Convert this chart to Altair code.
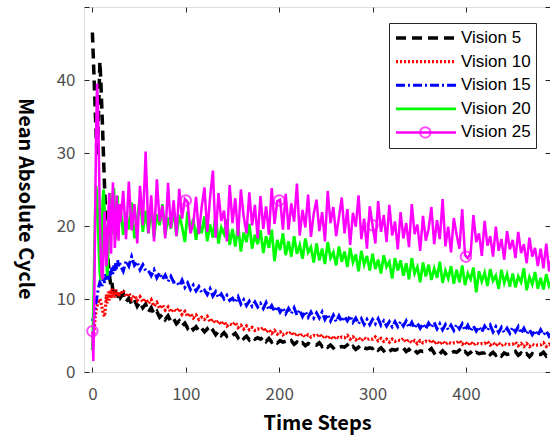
import altair as alt
import pandas as pd

SERIES = ["Vision 5", "Vision 10", "Vision 15", "Vision 20", "Vision 25"]
COLORS = ["#000000", "#ff0000", "#0000ff", "#00ff00", "#ff00ff"]
DASHES = [[10, 6], [2, 2], [9, 3, 2, 3], [1, 0], [1, 0]]
WIDTHS = [3.5, 2.5, 2.5, 3.0, 3.0]

X_TICKS = [0, 100, 200, 300, 400]
Y_TICKS = [0, 10, 20, 30, 40]
Y_TICKS_ALL = [0, 10, 20, 30, 40, 50]

# time steps: every step for the first 30, then every 3rd step
T = list(range(0, 30)) + list(range(30, 493, 3))

V5 = [46.5, 43.0, 39.5, 36.0, 32.5, 29.5, 33.0, 37.5, 42.5, 40.0,
      36.5, 33.0, 29.0, 25.5, 22.5, 19.5, 17.0, 15.0, 13.5, 12.5,
      11.6, 12.2, 11.0, 11.5, 10.6, 11.2, 10.3, 10.9, 10.1, 10.6,
      10.2, 10.8, 9.6, 10.1, 9.3, 9.9, 9.0, 9.6, 8.8, 9.3,
      8.2, 8.8, 7.9, 8.3, 7.5, 7.9, 7.2, 7.7, 6.9, 7.3,
      6.6, 7.0, 6.3, 6.7, 6.0, 6.4, 5.8, 6.2, 5.6, 6.0,
      5.5, 5.9, 5.3, 5.7, 5.1, 5.6, 5.0, 5.4, 4.9, 5.2,
      5.0, 5.3, 4.7, 5.1, 4.6, 4.9, 4.4, 4.8, 4.5, 4.7,
      4.5, 4.8, 4.2, 4.6, 4.1, 4.4, 4.0, 4.3, 4.1, 4.2,
      4.0, 4.3, 3.8, 4.1, 3.7, 4.0, 3.6, 3.9, 3.7, 3.8,
      3.7, 4.0, 3.5, 3.8, 3.4, 3.7, 3.3, 3.6, 3.4, 3.5,
      3.4, 3.7, 3.2, 3.5, 3.1, 3.4, 3.0, 3.3, 3.2, 3.3,
      3.2, 3.5, 3.0, 3.3, 2.9, 3.2, 2.8, 3.1, 3.0, 3.1,
      3.0, 3.3, 2.8, 3.1, 2.7, 3.0, 2.6, 2.9, 2.8, 2.9,
      2.9, 3.2, 2.6, 2.9, 2.5, 2.9, 2.5, 2.8, 2.6, 2.8,
      2.7, 3.0, 2.5, 2.8, 2.4, 2.7, 2.3, 2.7, 2.5, 2.6,
      2.6, 2.9, 2.4, 2.7, 2.3, 2.6, 2.2, 2.6, 2.4, 2.5,
      2.5, 2.8, 2.3, 2.6, 2.2, 2.5, 2.1, 2.5, 2.3, 2.4,
      2.4, 2.7, 2.2, 2.5, 2.3]

V10 = [3.0, 4.5, 6.0, 7.5, 8.5, 9.0, 9.5, 9.8, 10.0, 9.6,
       9.0, 8.4, 7.9, 7.6, 8.8, 10.6, 9.4, 11.0, 9.8, 11.2,
       10.1, 11.4, 10.4, 11.1, 10.2, 11.3, 10.5, 11.0, 10.3, 10.9,
       10.6, 11.2, 10.3, 10.8, 10.0, 10.5, 9.8, 10.3, 9.6, 10.0,
       9.4, 9.9, 9.0, 9.5, 8.7, 9.2, 8.5, 8.9, 8.2, 8.6,
       8.3, 8.7, 7.9, 8.3, 7.6, 8.0, 7.4, 7.8, 7.2, 7.5,
       7.2, 7.6, 6.9, 7.2, 6.7, 7.0, 6.5, 6.9, 6.3, 6.6,
       6.4, 6.8, 6.1, 6.4, 5.9, 6.3, 5.8, 6.1, 5.7, 5.9,
       5.8, 6.1, 5.5, 5.8, 5.3, 5.7, 5.2, 5.5, 5.1, 5.4,
       5.2, 5.5, 5.0, 5.3, 4.9, 5.2, 4.8, 5.1, 4.8, 5.0,
       4.9, 5.2, 4.7, 5.0, 4.6, 4.9, 4.5, 4.9, 4.6, 4.8,
       4.7, 5.0, 4.5, 4.8, 4.4, 4.7, 4.3, 4.7, 4.4, 4.6,
       4.5, 4.8, 4.3, 4.6, 4.2, 4.5, 4.1, 4.5, 4.2, 4.4,
       4.3, 4.6, 4.1, 4.4, 4.0, 4.3, 3.9, 4.3, 4.0, 4.2,
       4.1, 4.4, 3.9, 4.2, 3.8, 4.2, 3.8, 4.1, 3.9, 4.0,
       4.0, 4.3, 3.8, 4.1, 3.7, 4.1, 3.7, 4.0, 3.8, 3.9,
       3.9, 4.2, 3.7, 4.0, 3.6, 4.0, 3.6, 3.9, 3.7, 3.8,
       3.8, 4.1, 3.6, 3.9, 3.5, 3.9, 3.5, 3.8, 3.6, 3.7,
       3.7, 4.0, 3.5, 3.8, 3.6]

V15 = [7.0, 7.4, 8.0, 8.8, 9.6, 10.4, 11.2, 11.8, 12.3, 12.0,
       11.6, 12.4, 12.9, 12.2, 13.4, 12.7, 13.3, 12.5, 13.8, 13.0,
       13.6, 14.3, 13.4, 14.6, 13.8, 14.9, 14.1, 15.3, 14.5, 15.1,
       14.6, 13.8, 15.2, 14.5, 15.8, 14.6, 15.1, 14.0, 14.7, 13.9,
       13.9, 13.2, 14.0, 12.9, 13.6, 12.7, 13.3, 12.4, 13.1, 12.3,
       12.4, 11.8, 12.6, 11.6, 12.2, 11.3, 11.9, 11.1, 11.7, 10.9,
       11.2, 10.6, 11.4, 10.4, 11.0, 10.2, 10.7, 10.0, 10.5, 9.8,
       10.1, 9.5, 10.3, 9.3, 9.9, 9.1, 9.7, 9.0, 9.6, 8.9,
       9.4, 8.7, 9.5, 8.5, 9.1, 8.3, 9.0, 8.2, 8.8, 8.0,
       8.7, 8.0, 8.8, 7.8, 8.5, 7.6, 8.3, 7.5, 8.2, 7.4,
       8.1, 7.4, 8.2, 7.2, 7.9, 7.0, 7.8, 6.9, 7.7, 6.9,
       7.6, 7.0, 7.7, 6.8, 7.4, 6.6, 7.3, 6.5, 7.2, 6.5,
       7.2, 6.6, 7.3, 6.4, 7.0, 6.3, 6.9, 6.2, 6.9, 6.2,
       6.9, 6.3, 7.0, 6.1, 6.8, 6.0, 6.7, 6.0, 6.6, 5.9,
       6.7, 6.1, 6.8, 5.9, 6.6, 5.8, 6.5, 5.8, 6.4, 5.7,
       6.5, 5.9, 6.6, 5.7, 6.4, 5.6, 6.3, 5.6, 6.2, 5.5,
       6.3, 5.7, 6.4, 5.5, 6.2, 5.4, 6.1, 5.4, 6.0, 5.3,
       6.1, 5.5, 6.2, 5.3, 6.0, 5.2, 5.8, 5.1, 5.7, 5.0,
       5.8, 5.1, 5.6, 4.9, 5.4]

V20 = [3.0, 8.0, 15.0, 22.0, 25.5, 24.0, 20.5, 16.5, 13.5, 12.6,
       17.5, 23.5, 25.0, 22.0, 18.5, 15.0, 13.2, 17.0, 21.5, 24.5,
       22.0, 18.8, 23.2, 25.2, 21.0, 18.2, 22.4, 24.1, 19.6, 22.0,
       22.5, 18.8, 21.9, 19.5, 23.2, 18.3, 21.0, 24.0, 19.2, 22.1,
       19.0, 22.4, 18.4, 21.6, 20.1, 23.0, 18.7, 21.2, 19.6, 22.3,
       18.6, 21.5, 19.9, 17.8, 22.0, 19.2, 21.0, 18.1, 20.6, 19.0,
       21.3, 17.9, 20.2, 18.4, 21.5, 17.6, 19.8, 18.9, 20.9, 17.4,
       19.6, 17.2, 20.0, 16.5, 19.1, 17.8, 20.3, 16.9, 18.8, 17.5,
       19.4, 16.3, 18.6, 17.0, 19.5, 15.2, 18.1, 16.7, 19.0, 16.0,
       17.9, 15.8, 18.6, 16.2, 17.4, 15.5, 18.3, 16.4, 17.1, 15.0,
       17.6, 15.3, 16.9, 14.8, 17.8, 15.6, 16.4, 14.6, 17.2, 15.1,
       16.5, 14.4, 17.0, 15.0, 16.1, 13.8, 16.6, 14.7, 15.9, 13.9,
       16.2, 14.1, 15.4, 13.5, 16.0, 14.4, 15.1, 12.8, 15.6, 13.9,
       15.3, 13.2, 14.9, 12.7, 15.6, 13.5, 14.4, 12.3, 15.0, 13.1,
       14.7, 12.6, 14.2, 12.9, 15.1, 12.2, 13.9, 12.8, 14.5, 12.1,
       14.0, 12.3, 14.6, 11.9, 13.5, 12.7, 14.3, 10.9, 13.8, 12.4,
       13.6, 11.8, 14.1, 12.5, 13.2, 11.4, 14.0, 12.2, 13.4, 11.7,
       13.5, 11.6, 13.1, 12.3, 14.2, 11.2, 13.0, 12.0, 13.7, 11.4,
       12.9, 11.3, 13.4, 11.8, 12.5]

V25 = [5.6, 1.5, 10.0, 22.0, 33.0, 39.5, 36.5, 29.0, 21.0, 15.5,
       13.0, 12.7, 16.5, 22.0, 19.0, 14.5, 16.8, 21.5, 24.5, 20.0,
       16.2, 22.3, 26.0, 21.0, 17.0, 19.4, 24.2, 20.1, 18.0, 23.0,
       20.5, 24.8, 18.2, 26.1, 19.4, 23.0, 17.6, 25.5, 20.1, 30.2,
       19.0, 24.2, 17.9, 26.4, 20.6, 22.8, 18.3, 25.9, 19.7, 23.5,
       18.6, 25.1, 21.0, 23.7, 23.3, 19.0, 20.3, 24.0, 18.9, 22.6,
       25.3, 19.2, 23.9, 27.6, 18.4, 24.5, 20.7, 22.1, 17.9, 25.6,
       20.4, 23.8, 18.6, 25.0, 21.3, 19.0, 24.6, 20.1, 22.9, 18.3,
       24.1, 19.6, 22.7, 18.8, 25.2, 20.3, 23.4, 23.6, 19.5, 24.4,
       19.5, 23.1, 20.6, 25.8, 18.7, 22.2, 19.8, 24.3, 18.5, 21.7,
       23.6, 19.3, 21.9, 17.9, 24.8, 20.4, 22.6, 18.6, 21.2, 23.9,
       19.0, 22.3, 17.4, 21.8, 19.9, 24.2, 18.2, 21.0, 16.9, 22.7,
       20.1, 17.6, 23.4, 19.2, 21.5, 17.8, 22.9, 18.7, 20.6, 16.8,
       21.9, 18.3, 20.4, 17.1, 23.0, 18.9, 20.2, 16.6, 21.4, 18.0,
       19.6, 22.6, 17.5, 20.8, 18.2, 23.7, 17.2, 19.9, 16.4, 21.1,
       18.8, 16.9, 22.3, 16.0, 15.6, 16.2, 21.5, 17.8, 19.0, 15.9,
       20.7, 17.3, 18.6, 15.8, 19.9, 16.6, 18.2, 15.4, 19.3, 16.8,
       18.1, 15.6, 19.2, 16.3, 17.5, 14.9, 18.4, 15.8, 17.0, 14.5,
       16.9, 14.2, 17.6, 13.8, 15.9]

# circle markers on the Vision 25 curve
T_MARK = [0, 100, 200, 300, 400]
V_MARK = [5.6, 23.5, 23.5, 20.1, 15.8]

ALL = [V5, V10, V15, V20, V25]
for s, arr in zip(SERIES, ALL):
    if len(arr) != len(T):
        raise ValueError(f"{s}: {len(arr)} values for {len(T)} steps")

rows = []
for s, arr in zip(SERIES, ALL):
    for t, v in zip(T, arr):
        rows.append({"t": t, "value": v, "series": s})
df = pd.DataFrame(rows)
mk = pd.DataFrame({"t": T_MARK, "value": V_MARK, "mk": ["Vision 25"] * len(T_MARK)})

W, H = 466, 365
LABEL_FONT = "Noto Sans CJK KR"
TICK_COLOR = "#262626"

X_SCALE = alt.Scale(domain=[-9, 490], nice=False, zero=False)
Y_SCALE = alt.Scale(domain=[0, 50], nice=False, zero=False)

LEGEND = alt.Legend(title=None, orient="none", legendX=305, legendY=16,
                    symbolType="stroke", symbolSize=3600,
                    labelFont="Liberation Sans", labelFontSize=17, labelColor="#000000",
                    labelOffset=3, clipHeight=20, rowPadding=3.6, padding=5,
                    strokeColor="#262626", fillColor="#ffffff")

# one-entry legend that lays the circle marker over the "Vision 25" legend line
MARK_LEGEND = alt.Legend(title=None, orient="none", legendX=334.8, legendY=115.4,
                         padding=0, clipHeight=20, symbolSize=110, symbolStrokeWidth=2,
                         symbolStrokeColor="#ff00ff", symbolFillColor="transparent",
                         labelExpr="''", labelFontSize=1, zindex=2)

main_x = alt.Axis(orient="bottom", values=X_TICKS, ticks=False, domain=False, grid=False,
                  labelFont=LABEL_FONT, labelFontSize=17, labelColor="#505050",
                  labelPadding=14, title="Time Steps", titleFont=LABEL_FONT,
                  titleFontSize=20, titleFontWeight="bold", titleColor="#000000",
                  titleX=W / 2, titleY=57, titleAlign="center", titleBaseline="alphabetic")
main_y = alt.Axis(orient="left", values=Y_TICKS, ticks=False, domain=False, grid=False,
                  labelFont=LABEL_FONT, labelFontSize=17, labelColor="#505050",
                  labelPadding=9, title="Mean Absolute Cycle", titleFont=LABEL_FONT,
                  titleFontSize=20, titleFontWeight="bold", titleColor="#000000",
                  titleAngle=90, titleX=-60, titleY=191.5, titleAlign="center",
                  titleBaseline="middle")


def tick_axis(orient, offset, values):
    return alt.Axis(orient=orient, offset=offset, values=values, ticks=True, tickSize=5,
                    tickColor=TICK_COLOR, tickWidth=1, labels=False, domain=False,
                    grid=False, title=None)


AXES = [
    (main_x, main_y),
    (tick_axis("top", -H, X_TICKS), tick_axis("right", -W, Y_TICKS_ALL)),
    (tick_axis("bottom", -H, X_TICKS), tick_axis("left", -W, Y_TICKS_ALL)),
    (None, None),
    (None, None),
]

color_scale = alt.Scale(domain=SERIES, range=COLORS)
dash_scale = alt.Scale(domain=SERIES, range=DASHES)
width_scale = alt.Scale(domain=SERIES, range=WIDTHS)

layers = []
for s, (ax, ay) in zip(SERIES, AXES):
    layers.append(
        alt.Chart(df).transform_filter(alt.datum.series == s)
        .mark_line(clip=True)
        .encode(
            x=alt.X("t:Q", scale=X_SCALE, axis=ax),
            y=alt.Y("value:Q", scale=Y_SCALE, axis=ay),
            color=alt.Color("series:N", scale=color_scale, legend=LEGEND),
            strokeDash=alt.StrokeDash("series:N", scale=dash_scale, legend=LEGEND),
            strokeWidth=alt.StrokeWidth("series:N", scale=width_scale, legend=LEGEND),
        )
    )

markers = alt.Chart(mk).mark_point(filled=False, size=110, strokeWidth=2,
                                   color="#ff00ff", clip=True).encode(
    x=alt.X("t:Q", scale=X_SCALE, axis=None),
    y=alt.Y("value:Q", scale=Y_SCALE, axis=None),
    shape=alt.Shape("mk:N", scale=alt.Scale(domain=["Vision 25"], range=["circle"]),
                    legend=MARK_LEGEND),
)
layers.append(markers)

chart = (
    alt.layer(*layers)
    .resolve_axis(x="independent", y="independent")
    .properties(width=W, height=H, autosize="none",
                padding={"left": 84, "top": 7, "right": 0, "bottom": 69})
    .configure_view(stroke="#262626", strokeWidth=1)
    .configure(background="white")
)

chart.save("out.html", embed_options={"renderer": "svg", "actions": False})
